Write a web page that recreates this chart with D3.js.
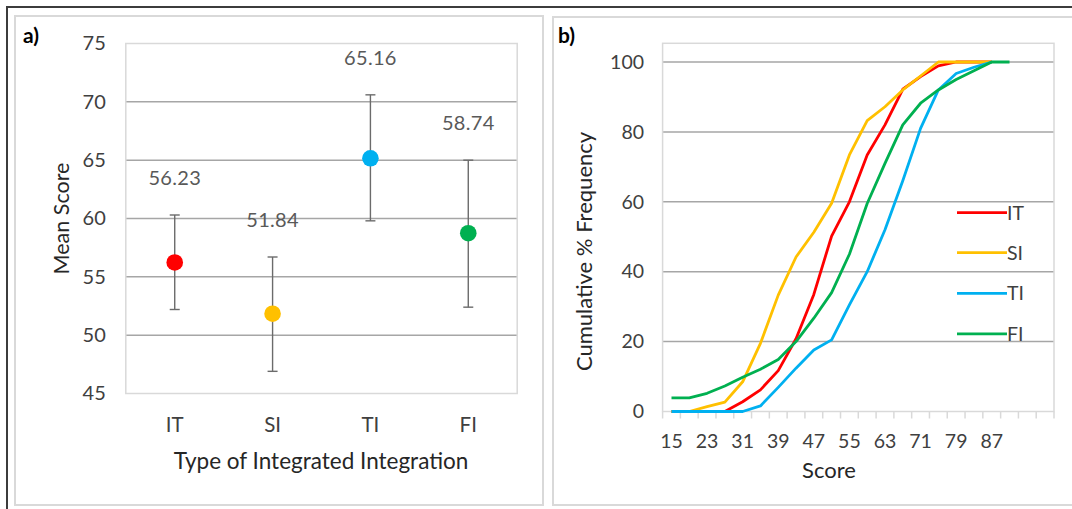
<!DOCTYPE html>
<html>
<head>
<meta charset="utf-8">
<script src="https://cdn.jsdelivr.net/npm/d3@7"></script>
<style>
  html, body { margin: 0; padding: 0; background: #fff; }
  svg { display: block; }
  text { font-family: Lato, "Open Sans", sans-serif; }
</style>
</head>
<body>
<svg id="chart" width="1072" height="509"></svg>
<script>
// ---------- Panel a data ----------
const categoriesA = ["IT", "SI", "TI", "FI"];
const meanScores = [56.23, 51.84, 65.16, 58.74];
const errLow = [52.2, 46.9, 59.8, 52.4];
const errHigh = [60.3, 56.7, 70.6, 65.0];
const meanTicks = [45, 50, 55, 60, 65, 70, 75];

// ---------- Panel b data ----------
const scores = ["15","19","23","27","31","35","39","43","47","51","55","59","63","67","71","75","79","83","87","91","95","99"];
const scoreTickLabels = ["15","23","31","39","47","55","63","71","79","87"];
const freqTicks = [0, 20, 40, 60, 80, 100];
const seriesNames = ["IT", "SI", "TI", "FI"];
const cumIT = [0, 0, 0, 0, 2.8, 6.2, 11.7, 20.8, 33.5, 50.2, 60, 73.4, 82, 92.2, 95.8, 98.9, 100, 100, 100];
const cumSI = [0, 0, 1.4, 2.7, 8.5, 19.5, 33.3, 44.2, 51.3, 59.6, 73.4, 83.2, 87.2, 92, 96, 100, 100, 100, 100];
const cumTI = [0, 0, 0, 0, 0, 1.6, 6.9, 12.4, 17.6, 20.5, 30.5, 40, 52, 66, 81, 92, 96.7, 98.5, 100];
const cumFI = [3.9, 3.9, 5.2, 7.3, 9.8, 12.1, 14.9, 20, 26.7, 34, 45, 59.5, 71, 82, 88.2, 92, 95, 97.5, 100, 100];

const colors = ["#ff0000", "#ffc000", "#00b0f0", "#00b050"];

const svg = d3.select("#chart");
svg.append("rect").attr("width", 1072).attr("height", 509).attr("fill", "#fff");

// outer frames
svg.append("line").attr("x1", 7).attr("x2", 1072).attr("y1", 7).attr("y2", 7)
  .attr("stroke", "#3c3c3c").attr("stroke-width", 2);
svg.append("line").attr("x1", 7).attr("x2", 7).attr("y1", 6).attr("y2", 509)
  .attr("stroke", "#3c3c3c").attr("stroke-width", 2);
svg.append("rect").attr("x", 15).attr("y", 16).attr("width", 528).attr("height", 489)
  .attr("fill", "none").attr("stroke", "#d9d9d9").attr("stroke-width", 2);
svg.append("rect").attr("x", 553).attr("y", 17).attr("width", 540).attr("height", 488)
  .attr("fill", "none").attr("stroke", "#d9d9d9").attr("stroke-width", 2);

// ================= Panel a =================
const a = { left: 125.8, right: 517.2, top: 43.5, bottom: 393.5 };
const yA = d3.scaleLinear().domain([45, 75]).range([a.bottom, a.top]);
const xA = d3.scaleBand().domain(categoriesA).range([a.left, a.right]);

const gA = svg.append("g");
gA.selectAll("line.grid").data(meanTicks.filter(t => t > 45 && t < 75)).join("line")
  .attr("x1", a.left).attr("x2", a.right)
  .attr("y1", d => yA(d)).attr("y2", d => yA(d))
  .attr("stroke", "#a6a6a6").attr("stroke-width", 1.5);
gA.append("rect").attr("x", a.left).attr("y", a.top)
  .attr("width", a.right - a.left).attr("height", a.bottom - a.top)
  .attr("fill", "none").attr("stroke", "#d9d9d9").attr("stroke-width", 1.5);

const yAxisA = gA.append("g").attr("transform", `translate(${a.left},0)`)
  .call(d3.axisLeft(yA).tickValues(meanTicks).tickSize(0).tickPadding(20));
yAxisA.select(".domain").remove();
yAxisA.selectAll("text").attr("font-size", 20).attr("fill", "#404040")
  .attr("font-family", "Lato, sans-serif");

const xAxisA = gA.append("g").attr("transform", `translate(0,${a.bottom})`)
  .call(d3.axisBottom(xA).tickSize(0).tickPadding(24));
xAxisA.select(".domain").remove();
xAxisA.selectAll("text").attr("font-size", 20.5).attr("fill", "#404040")
  .attr("font-family", "Lato, sans-serif");

// error bars
categoriesA.forEach((c, i) => {
  const cx = xA(c) + xA.bandwidth() / 2;
  const g = gA.append("g").attr("stroke", "#6b6b6b").attr("stroke-width", 1.4);
  g.append("line").attr("x1", cx).attr("x2", cx).attr("y1", yA(errLow[i])).attr("y2", yA(errHigh[i]));
  g.append("line").attr("x1", cx - 5).attr("x2", cx + 5).attr("y1", yA(errLow[i])).attr("y2", yA(errLow[i]));
  g.append("line").attr("x1", cx - 5).attr("x2", cx + 5).attr("y1", yA(errHigh[i])).attr("y2", yA(errHigh[i]));
});
gA.selectAll("circle.pt").data(meanScores).join("circle")
  .attr("cx", (d, i) => xA(categoriesA[i]) + xA.bandwidth() / 2)
  .attr("cy", d => yA(d)).attr("r", 8.3)
  .attr("fill", (d, i) => colors[i]);
gA.selectAll("text.lbl").data(meanScores).join("text")
  .attr("x", (d, i) => xA(categoriesA[i]) + xA.bandwidth() / 2)
  .attr("y", (d, i) => yA(errHigh[i]) - 30)
  .attr("text-anchor", "middle").attr("font-size", 20).attr("fill", "#595959")
  .attr("letter-spacing", 0.3)
  .text(d => d.toFixed(2));

gA.append("text").attr("transform", "translate(69,218.5) rotate(-90)")
  .attr("text-anchor", "middle").attr("font-size", 21.5).attr("fill", "#262626")
  .text("Mean Score");
gA.append("text").attr("x", 321).attr("y", 469)
  .attr("text-anchor", "middle").attr("font-size", 22.5).attr("fill", "#262626")
  .text("Type of Integrated Integration");
gA.append("text").attr("x", 23).attr("y", 43)
  .attr("font-size", 21).attr("font-weight", "bold").attr("fill", "#000")
  .attr("font-family", "'Liberation Sans', Arial, sans-serif")
  .text("a)");

// ================= Panel b =================
const b = { left: 662.6, right: 1054, top: 43.3, bottom: 411.5 };
const yB = d3.scaleLinear().domain([0, 100]).range([b.bottom, 62]);
const xB = d3.scaleBand().domain(scores).range([b.left, b.right]);

const gB = svg.append("g");
gB.selectAll("line.grid").data(freqTicks.filter(t => t > 0)).join("line")
  .attr("x1", b.left).attr("x2", b.right)
  .attr("y1", d => yB(d)).attr("y2", d => yB(d))
  .attr("stroke", "#a6a6a6").attr("stroke-width", 1.5);
gB.append("rect").attr("x", b.left).attr("y", b.top)
  .attr("width", b.right - b.left).attr("height", b.bottom - b.top)
  .attr("fill", "none").attr("stroke", "#d9d9d9").attr("stroke-width", 1.5);
// category tick marks at band boundaries
gB.selectAll("line.tick").data(scores.map(s => xB(s)).concat([b.right])).join("line")
  .attr("x1", d => d).attr("x2", d => d)
  .attr("y1", b.bottom).attr("y2", b.bottom + 7)
  .attr("stroke", "#d9d9d9").attr("stroke-width", 1.5);

const yAxisB = gB.append("g").attr("transform", `translate(${b.left},0)`)
  .call(d3.axisLeft(yB).tickValues(freqTicks).tickSize(0).tickPadding(18.6));
yAxisB.select(".domain").remove();
yAxisB.selectAll("text").attr("font-size", 19.5).attr("fill", "#404040")
  .attr("font-family", "Lato, sans-serif");

const xAxisB = gB.append("g").attr("transform", `translate(0,${b.bottom})`)
  .call(d3.axisBottom(xB).tickValues(scoreTickLabels).tickSize(0).tickPadding(23));
xAxisB.select(".domain").remove();
xAxisB.selectAll("text").attr("font-size", 19.5).attr("fill", "#404040")
  .attr("font-family", "Lato, sans-serif");

const lineGen = d3.line()
  .x((d, i) => xB(scores[i]) + xB.bandwidth() / 2)
  .y(d => yB(d));
[cumIT, cumSI, cumTI, cumFI].forEach((s, k) => {
  gB.append("path").datum(s).attr("d", lineGen)
    .attr("fill", "none").attr("stroke", colors[k]).attr("stroke-width", 2.8)
    .attr("stroke-linejoin", "round");
});

// legend
const legY = [212.7, 252.7, 293.3, 333.8];
seriesNames.forEach((n, k) => {
  gB.append("line").attr("x1", 957).attr("x2", 1007).attr("y1", legY[k]).attr("y2", legY[k])
    .attr("stroke", colors[k]).attr("stroke-width", 2.8);
  gB.append("text").attr("x", 1007).attr("y", legY[k]).attr("dy", "0.36em")
    .attr("font-size", 19.5).attr("fill", "#404040").text(n);
});

gB.append("text").attr("transform", "translate(592,251.5) rotate(-90)")
  .attr("text-anchor", "middle").attr("font-size", 22).attr("fill", "#262626")
  .text("Cumulative % Frequency");
gB.append("text").attr("x", 829).attr("y", 478)
  .attr("text-anchor", "middle").attr("font-size", 22).attr("fill", "#262626")
  .text("Score");
gB.append("text").attr("x", 558).attr("y", 43)
  .attr("font-size", 21).attr("font-weight", "bold").attr("fill", "#000")
  .attr("font-family", "'Liberation Sans', Arial, sans-serif")
  .text("b)");
</script>
</body>
</html>
